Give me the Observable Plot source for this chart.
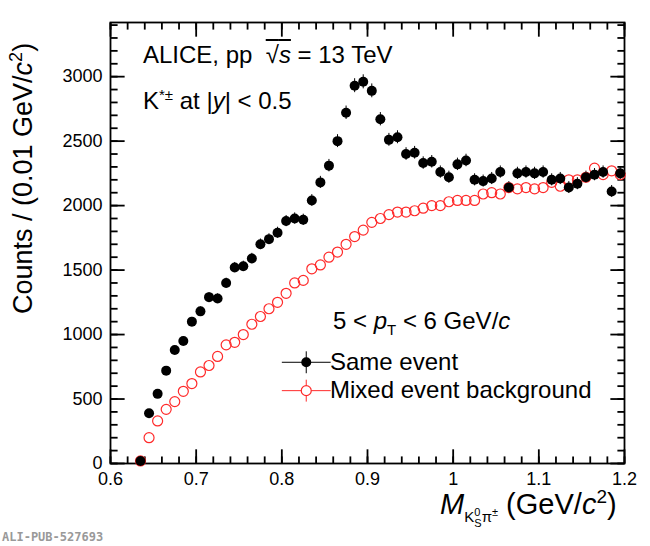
<!DOCTYPE html>
<html><head><meta charset="utf-8">
<script src="https://cdn.jsdelivr.net/npm/d3@7"></script>
<script src="https://cdn.jsdelivr.net/npm/@observablehq/plot@0.6"></script>
<style>
body{margin:0;background:#fff;font-family:"Liberation Sans",Arial,sans-serif}
#wrap{position:relative;width:650px;height:546px}
.t{position:absolute;white-space:nowrap;color:#000}
</style></head><body>
<div id="wrap"><div id="chart"></div>
<div class="t" style="left:143px;top:41px;font-size:24px">ALICE, pp &nbsp;<span style="text-decoration:overline">&radic;<i>s</i></span> = 13 TeV</div>
<div class="t" style="left:143px;top:86px;font-size:24px">K<sup style="font-size:15px">*±</sup> at |<i>y</i>| &lt; 0.5</div>
<div class="t" style="left:333px;top:307px;font-size:24px">5 &lt; <i>p</i><sub style="font-size:15px">T</sub> &lt; 6 GeV/<i>c</i></div>
<div class="t" style="left:330px;top:348px;font-size:24px">Same event</div>
<div class="t" style="left:330px;top:376px;font-size:24px">Mixed event background</div>
<div class="t" style="font-size:27px;transform:rotate(-90deg);transform-origin:0 0;top:314px;left:6px">Counts / (0.01 GeV/<i>c</i><sup style="font-size:18px">2</sup>)</div>
<div class="t" style="left:440px;top:486px;font-size:29px"><i>M</i><span style="font-size:15px;position:relative;top:8px">K<sup style="font-size:11px">0</sup><span style="font-size:11px;margin-left:-6px;position:relative;top:5px">S</span>π<sup style="font-size:11px">±</sup></span> (GeV/<i>c</i><sup style="font-size:19px">2</sup>)</div>
<div class="t" style="left:2px;top:530px;font-size:12px;font-family:'DejaVu Sans Mono',monospace;font-weight:bold;color:#999">ALI-PUB-527693</div>
</div>
<script>
const mass = d3.range(57).map(i => +(0.635 + 0.01 * i).toFixed(3))
const sameEvent = [20,390,540,720,880,950,1100,1180,1290,1280,1400,1520,1530,1590,1700,1740,1790,1880,1900,1890,
  2040,2180,2310,2500,2720,2930,2960,2890,2670,2510,2530,2400,2410,2330,2340,2260,2220,2320,2350,2200,
  2190,2210,2260,2140,2250,2260,2250,2260,2200,2210,2140,2170,2220,2240,2260,2110,2250]
const mixedEvent = [20,200,330,420,480,560,620,710,760,830,920,940,1000,1080,1140,1200,1250,1320,1400,1420,
  1510,1540,1600,1640,1700,1760,1810,1870,1900,1930,1950,1950,1960,1980,2000,2000,2030,2040,2040,2040,
  2090,2100,2090,2140,2130,2140,2130,2140,2180,2150,2200,2200,2220,2290,2240,2270,2240]
const xTicks = [0.6,0.7,0.8,0.9,1,1.1,1.2]
const yTicks = [0,500,1000,1500,2000,2500,3000]
const xMinor = d3.range(31).map(i => 0.6 + 0.02 * i)
const yMinor = d3.range(35).map(i => 100 * i)

const same = mass.map((m, i) => ({m, c: sameEvent[i]}))
const mixed = mass.map((m, i) => ({m, c: mixedEvent[i]}))

// inward tick segments, built from the tick arrays
const tickSegs = [
  ...yMinor.map(v => ({x1: 0.6, x2: 0.6083, y1: v, y2: v})),
  ...yTicks.map(v => ({x1: 0.6, x2: 0.6165, y1: v, y2: v})),
  ...yMinor.map(v => ({x1: 1.1917, x2: 1.2, y1: v, y2: v})),
  ...yTicks.map(v => ({x1: 1.1835, x2: 1.2, y1: v, y2: v})),
  ...xMinor.map(v => ({x1: v, x2: v, y1: 0, y2: 55})),
  ...xTicks.map(v => ({x1: v, x2: v, y1: 0, y2: 110})),
  ...xMinor.map(v => ({x1: v, x2: v, y1: 3365, y2: 3420})),
  ...xTicks.map(v => ({x1: v, x2: v, y1: 3310, y2: 3420}))
]
const legend = [
  {x1: 0.8, x2: 0.857, y1: 785, y2: 785, s: "black"},
  {x1: 0.8285, x2: 0.8285, y1: 700, y2: 870, s: "black"},
  {x1: 0.8, x2: 0.857, y1: 565, y2: 565, s: "#ff2a2a"},
  {x1: 0.8285, x2: 0.8285, y1: 480, y2: 650, s: "#ff2a2a"}
]

const chart = Plot.plot({
  width: 650, height: 546,
  marginLeft: 110, marginRight: 26, marginTop: 22, marginBottom: 83,
  style: {fontFamily: "Liberation Sans, Arial, sans-serif", fontSize: "18px", background: "white"},
  x: {domain: [0.6, 1.2]},
  y: {domain: [0, 3420]},
  marks: [
    Plot.axisX(xTicks, {tickSize: 0, tickPadding: 9, label: null, tickFormat: d => d === 1 ? "1" : d3.format(".1f")(d), fontSize: 18}),
    Plot.axisY(yTicks, {tickSize: 0, tickPadding: 8, label: null, tickFormat: d3.format("d"), fontSize: 18}),
    Plot.link(tickSegs, {x1: "x1", x2: "x2", y1: "y1", y2: "y2", stroke: "black", strokeWidth: 1.8}),
    Plot.frame({stroke: "black", strokeWidth: 1.8}),
    Plot.ruleX(same, {x: "m", y1: d => d.c - Math.sqrt(d.c), y2: d => d.c + Math.sqrt(d.c), stroke: "black"}),
    Plot.dot(mixed, {x: "m", y: "c", r: 5, stroke: "#ff2a2a", strokeWidth: 1.2, fill: "none"}),
    Plot.dot(same, {x: "m", y: "c", r: 5, fill: "black", stroke: "none"}),
    Plot.link(legend, {x1: "x1", x2: "x2", y1: "y1", y2: "y2", stroke: "s"}),
    Plot.dot([{x: 0.8285, y: 785}], {x: "x", y: "y", r: 5, fill: "black"}),
    Plot.dot([{x: 0.8285, y: 565}], {x: "x", y: "y", r: 5, stroke: "#ff2a2a", fill: "white", strokeWidth: 1.2})
  ]
})
d3.select("#chart").append(() => chart)
</script>
</body></html>
